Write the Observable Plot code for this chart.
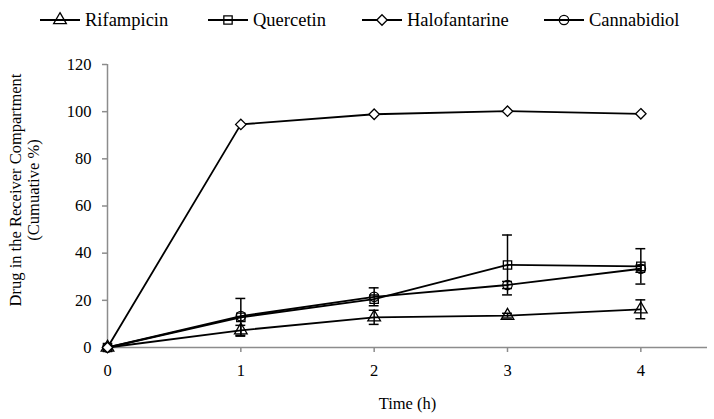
<!DOCTYPE html>
<html>
<head>
<meta charset="utf-8">
<script src="https://cdn.jsdelivr.net/npm/d3@7"></script>
<script src="https://cdn.jsdelivr.net/npm/@observablehq/plot@0.6"></script>
<style>
  html, body { margin: 0; padding: 0; background: #fff; }
  #legend { height: 34px; }
  #legend svg, #chart svg { display: block; }
  svg text { font-family: "Liberation Serif", "Times New Roman", "DejaVu Serif", serif !important; }
</style>
</head>
<body>
<div id="legend"></div>
<div id="chart"></div>
<script>
const times = [0, 1, 2, 3, 4];
const seriesNames = ["Rifampicin", "Quercetin", "Halofantarine", "Cannabidiol"];
const seriesSymbols = ["triangle", "square", "diamond2", "circle"];
const rifampicin = [0, 7.3, 12.8, 13.5, 16.2];
const rifampicinErr = [0, 2.1, 3.0, 1.0, 4.0];
const quercetin = [0, 12.8, 20.5, 35.0, 34.4];
const quercetinErr = [0, 8.0, 0, 12.7, 7.5];
const halofantarine = [0, 94.6, 98.9, 100.2, 99.1];
const halofantarineErr = [0, 0, 0, 0, 0];
const cannabidiol = [0, 13.3, 21.5, 26.5, 33.4];
const cannabidiolErr = [0, 0, 3.8, 1.5, 1.5];
const yTicks = [0, 20, 40, 60, 80, 100, 120];
const xLabel = "Time (h)";
const yLabel = "Drug in the Receiver Compartment\n(Cumuative %)";

const values = [rifampicin, quercetin, halofantarine, cannabidiol];
const errors = [rifampicinErr, quercetinErr, halofantarineErr, cannabidiolErr];
const data = [];
seriesNames.forEach((s, i) => {
  times.forEach((t, j) => {
    data.push({series: s, symbol: seriesSymbols[i], time: t, value: values[i][j], err: errors[i][j]});
  });
});
const errData = data.filter(d => d.err > 0.5);
const capHalf = 0.037;
const font = "Liberation Serif, Times New Roman, DejaVu Serif, serif";
const gray = "#8c8c8c";
const symR = 4.7;

// Legend
const legend = d3.select("#legend").append("svg").attr("width", 714).attr("height", 34);
const legendX = [40, 208, 362, 544];
const symTypes = {triangle: d3.symbolTriangle, square: d3.symbolSquare, diamond2: d3.symbolDiamond2, circle: d3.symbolCircle};
seriesNames.forEach((s, i) => {
  const g = legend.append("g").attr("transform", `translate(${legendX[i]},20)`);
  g.append("line").attr("x1", 0).attr("x2", 40).attr("y1", 0).attr("y2", 0)
    .attr("stroke", "#000").attr("stroke-width", 1.8);
  g.append("path").attr("transform", "translate(20,0)")
    .attr("d", d3.symbol(symTypes[seriesSymbols[i]], symR * symR * Math.PI)())
    .attr("fill", seriesSymbols[i] === "diamond2" ? "#fff" : "none")
    .attr("stroke", "#000").attr("stroke-width", 1.3);
  g.append("text").attr("x", 45).attr("y", 0).attr("dy", "0.3em")
    .attr("font-family", font).attr("font-size", 18.5).text(s);
});

const chart = Plot.plot({
  width: 714,
  height: 385,
  marginTop: 30,
  marginBottom: 72,
  marginLeft: 107,
  marginRight: 7,
  style: {fontFamily: font, fontSize: "16.5px", color: "#000", background: "#fff"},
  x: {domain: [0, 4.5]},
  y: {domain: [0, 120]},
  symbol: {domain: seriesNames, range: seriesSymbols},
  marks: [
    Plot.ruleX([0], {stroke: gray, strokeWidth: 1.5}),
    Plot.ruleY([0], {stroke: gray, strokeWidth: 1.5}),
    Plot.axisX({ticks: times, tickSize: 5, tickPadding: 12, stroke: gray, strokeWidth: 1.5, label: null, tickFormat: d => String(d), fill: "#000", fontFamily: font, fontSize: 16.5}),
    Plot.axisY({ticks: yTicks, tickSize: 5, tickPadding: 11, stroke: gray, strokeWidth: 1.5, label: null, tickFormat: d => String(d), fill: "#000", fontFamily: font, fontSize: 16.5}),
    Plot.line(data, {x: "time", y: "value", z: "series", stroke: "#000", strokeWidth: 1.8}),
    Plot.ruleX(errData, {x: "time", y1: d => d.value - d.err, y2: d => d.value + d.err, stroke: "#000", strokeWidth: 1.5}),
    Plot.ruleY(errData, {y: d => d.value + d.err, x1: d => d.time - capHalf, x2: d => d.time + capHalf, stroke: "#000", strokeWidth: 1.5}),
    Plot.ruleY(errData, {y: d => d.value - d.err, x1: d => d.time - capHalf, x2: d => d.time + capHalf, stroke: "#000", strokeWidth: 1.5}),
    Plot.dot(data.filter(d => d.symbol !== "diamond2"), {x: "time", y: "value", symbol: "series", r: symR, fill: "none", stroke: "#000", strokeWidth: 1.3}),
    Plot.dot(data.filter(d => d.symbol === "diamond2"), {x: "time", y: "value", symbol: "series", r: symR, fill: "#fff", stroke: "#000", strokeWidth: 1.3}),
    Plot.text([xLabel], {frameAnchor: "bottom", dy: 56, text: d => d, lineAnchor: "middle", fontSize: 16.5, fontFamily: font, fill: "#000"}),
    Plot.text([yLabel], {frameAnchor: "left", textAnchor: "middle", rotate: -90, dx: -83, dy: -16, text: d => d, lineAnchor: "middle", lineHeight: 1.1, fontSize: 16.5, fontFamily: font, fill: "#000"})
  ]
});
document.getElementById("chart").appendChild(chart);
</script>
</body>
</html>
